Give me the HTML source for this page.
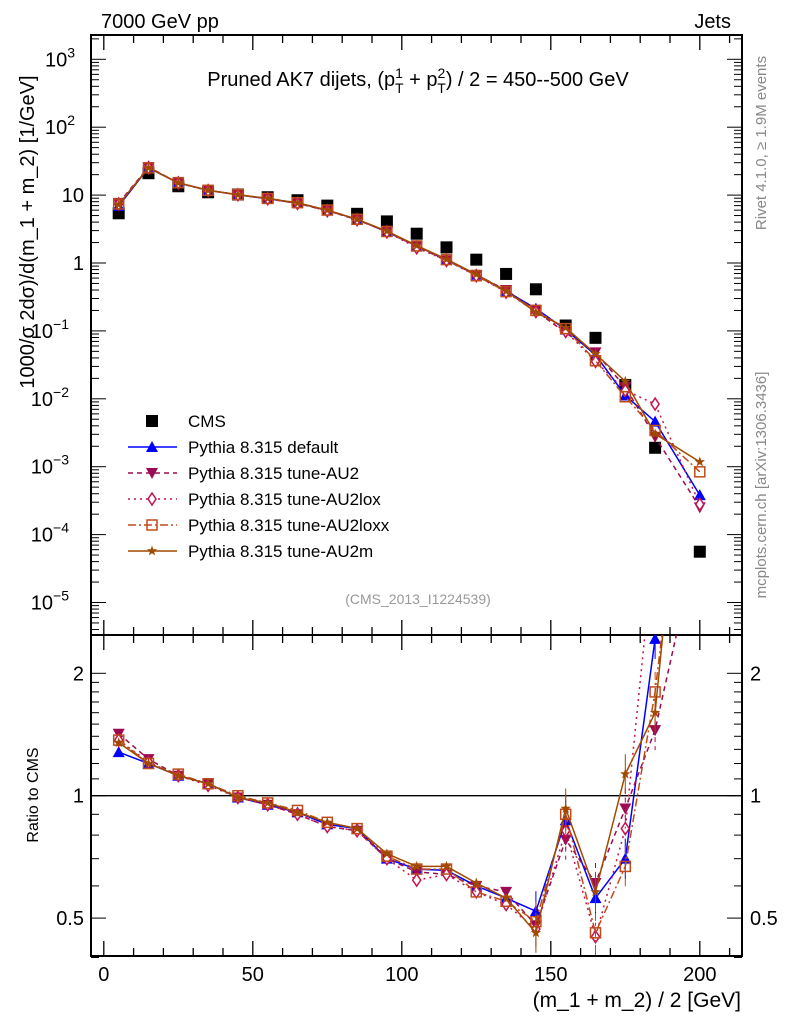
<!DOCTYPE html>
<html><head><meta charset="utf-8"><style>
html,body{margin:0;padding:0;background:#fff}
svg{display:block;font-family:"Liberation Sans",sans-serif}
</style></head><body>
<svg id="chart" width="786" height="1024" xmlns="http://www.w3.org/2000/svg">
<g id="main"></g>
<g id="ratio"></g>
<g id="labels">
<text x="101" y="28" font-size="20">7000 GeV pp</text>
<text x="731" y="28" font-size="20" text-anchor="end">Jets</text>
<text x="418" y="86" font-size="20" text-anchor="middle">Pruned AK7 dijets, (p<tspan dy="-8" font-size="14">1</tspan><tspan dx="-8" dy="15" font-size="14">T</tspan><tspan dy="-7"> + p</tspan><tspan dy="-8" font-size="14">2</tspan><tspan dx="-8" dy="15" font-size="14">T</tspan><tspan dy="-7">) / 2 = 450--500 GeV</tspan></text>
<text x="0" y="0" font-size="20" text-anchor="middle" transform="translate(34,232) rotate(-90)">1000/σ  2dσ)/d(m_1 + m_2) [1/GeV]</text>
<text x="0" y="0" font-size="16" text-anchor="middle" transform="translate(38,795) rotate(-90)">Ratio to CMS</text>
<text x="741" y="1007" font-size="21" text-anchor="end">(m_1 + m_2) / 2 [GeV]</text>
<text x="0" y="0" font-size="15" fill="#888" text-anchor="middle" transform="translate(766,143) rotate(-90)">Rivet 4.1.0, ≥ 1.9M events</text>
<text x="0" y="0" font-size="15" fill="#888" text-anchor="middle" transform="translate(766,485) rotate(-90)">mcplots.cern.ch [arXiv:1306.3436]</text>
<text x="418" y="604" font-size="14" fill="#999" text-anchor="middle">(CMS_2013_I1224539)</text>
</g>
<g id="legend"></g>
</svg>
<script>
const xCenters=[5,15,25,35,45,55,65,75,85,95,105,115,125,135,145,155,165,175,185,200];
const cmsValues=[5.4,21,13.5,11,10.2,9.3,8.4,7.0,5.3,4.1,2.7,1.7,1.12,0.69,0.41,0.12,0.079,0.016,0.0019,0.000056];
const ratioDefault=[1.28,1.2,1.12,1.07,0.99,0.95,0.91,0.85,0.83,0.7,0.66,0.655,0.6,0.56,0.52,0.87,0.56,0.7,2.43,6.8];
const ratioAU2=[1.42,1.23,1.12,1.07,0.99,0.95,0.9,0.84,0.82,0.7,0.65,0.64,0.6,0.58,0.48,0.78,0.61,0.93,1.45,4.5];
const ratioAU2lox=[1.37,1.21,1.12,1.06,0.99,0.95,0.9,0.84,0.82,0.7,0.62,0.64,0.58,0.54,0.47,0.82,0.45,0.83,4.4,5.0];
const ratioAU2loxx=[1.37,1.2,1.13,1.07,1.0,0.96,0.92,0.86,0.83,0.71,0.66,0.66,0.58,0.55,0.49,0.9,0.46,0.67,1.8,15];
const ratioAU2m=[1.35,1.2,1.12,1.07,0.99,0.96,0.91,0.86,0.83,0.72,0.67,0.67,0.61,0.56,0.46,0.93,0.58,1.13,1.6,21];
const mainTickExps=[3,2,1,0,-1,-2,-3,-4,-5];
const xTickLabels=[0,50,100,150,200];
const ratioTickLabels=[0.5,1,2];

const NS="http://www.w3.org/2000/svg";
const L=91,R=742,MT=35,MB=635,RT=635,RB=956;
const xp=v=>103.8+2.98*v;
const yMain=v=>263-67.9*Math.log10(v);
const yRat=v=>795.7-122.4*Math.log2(v);
function mk(par,tag,attrs){const e=document.createElementNS(NS,tag);for(const k in attrs)e.setAttribute(k,attrs[k]);par.appendChild(e);return e;}
const main=document.getElementById('main'),ratio=document.getElementById('ratio'),leg=document.getElementById('legend');
const defs=mk(document.getElementById('chart'),'defs',{});
const c1=mk(defs,'clipPath',{id:'cm'});mk(c1,'rect',{x:L,y:MT,width:R-L,height:MB-MT});
const c2=mk(defs,'clipPath',{id:'cr'});mk(c2,'rect',{x:L,y:RT,width:R-L,height:RB-RT});

function frame(g,top,bot,name){
  const r=mk(g,'rect',{x:L,y:top,width:R-L,height:bot-top,fill:'none',stroke:'#000','stroke-width':2});
  
  
  for(let v=0;v<=210;v+=10){const big=v%50===0;const len=big?15:8;
    mk(g,'line',{x1:xp(v),x2:xp(v),y1:bot,y2:bot-len,stroke:'#000','stroke-width':1.3});
    mk(g,'line',{x1:xp(v),x2:xp(v),y1:top,y2:top+len,stroke:'#000','stroke-width':1.3});}
}
frame(main,MT,MB,'main-frame');frame(ratio,RT,RB,'ratio-frame');
for(let e=-6;e<=3;e++){for(let m=1;m<10;m++){const v=m*Math.pow(10,e);const y=yMain(v);if(y<MT||y>MB)continue;const len=m===1?15:8;
  mk(main,'line',{x1:L,x2:L+len,y1:y,y2:y,stroke:'#000','stroke-width':1});
  mk(main,'line',{x1:R,x2:R-len,y1:y,y2:y,stroke:'#000','stroke-width':1});}}
mainTickExps.forEach(e=>{const t=mk(main,'text',{x:84,y:yMain(Math.pow(10,e))+7,'font-size':20,'text-anchor':'end'});
  
  
  if(e===0)t.textContent='1';else if(e===1)t.textContent='10';
  else{t.innerHTML='10<tspan dy="-9" font-size="14">'+(e<0?'−'+(-e):e)+'</tspan>';t.setAttribute('x',84-(e<0?15:9));}});
[0.4,0.5,0.6,0.7,0.8,0.9,1,1.1,1.2,1.3,1.4,1.5,1.6,1.7,1.8,1.9,2].forEach(v=>{const y=yRat(v);const big=(v===0.5||v===1||v===2);const len=big?15:8;
  mk(ratio,'line',{x1:L,x2:L+len,y1:y,y2:y,stroke:'#000','stroke-width':1});
  mk(ratio,'line',{x1:R,x2:R-len,y1:y,y2:y,stroke:'#000','stroke-width':1});});
ratioTickLabels.forEach(v=>{
  const t=mk(ratio,'text',{x:84,y:yRat(v)+7,'font-size':20,'text-anchor':'end'});t.textContent=String(v);
  
  
  const t2=mk(ratio,'text',{x:750,y:yRat(v)+7,'font-size':20});t2.textContent=String(v);
  
  });
xTickLabels.forEach(v=>{const t=mk(ratio,'text',{x:xp(v),y:981,'font-size':20,'text-anchor':'middle'});t.textContent=String(v);
  
  });
mk(ratio,'line',{x1:L,x2:R,y1:yRat(1),y2:yRat(1),stroke:'#000','stroke-width':1.3});

const series=[
 {name:'Pythia 8.315 default',r:ratioDefault,c:'#0000ff',dash:'',mk:'tri'},
 {name:'Pythia 8.315 tune-AU2',r:ratioAU2,c:'#9b0a52',dash:'5,4',mk:'tridown'},
 {name:'Pythia 8.315 tune-AU2lox',r:ratioAU2lox,c:'#c4124e',dash:'2,4',mk:'diamond'},
 {name:'Pythia 8.315 tune-AU2loxx',r:ratioAU2loxx,c:'#c04a1a',dash:'8,3,2,3',mk:'square'},
 {name:'Pythia 8.315 tune-AU2m',r:ratioAU2m,c:'#a04a00',dash:'',mk:'star'}];
function marker(g,type,x,y,c){
  if(type==='tri')return mk(g,'polygon',{points:`${x},${y-6} ${x-6},${y+5} ${x+6},${y+5}`,fill:c});
  if(type==='tridown')return mk(g,'polygon',{points:`${x},${y+6} ${x-6},${y-5} ${x+6},${y-5}`,fill:c});
  if(type==='diamond')return mk(g,'polygon',{points:`${x},${y-6} ${x+4},${y} ${x},${y+6} ${x-4},${y}`,fill:'#fff',stroke:c,'stroke-width':1.5});
  if(type==='square')return mk(g,'rect',{x:x-5,y:y-5,width:10,height:10,fill:'none',stroke:c,'stroke-width':1.5});
  if(type==='star'){let p=[];for(let i=0;i<10;i++){const a=Math.PI/5*i-Math.PI/2;const rr=i%2?2.2:5.5;p.push((x+rr*Math.cos(a)).toFixed(1)+','+(y+rr*Math.sin(a)).toFixed(1));}return mk(g,'polygon',{points:p.join(' '),fill:c});}
  if(type==='cms')return mk(g,'rect',{x:x-6,y:y-6,width:12,height:12,fill:'#000'});
}
const gc=mk(main,'g',{'clip-path':'url(#cm)'});


xCenters.forEach((x,i)=>{const m=marker(gc,'cms',xp(x),yMain(cmsValues[i]),'#000');
  
  });
series.forEach((s,si)=>{
  const gm=mk(main,'g',{'clip-path':'url(#cm)'});
  
  
  const gr=mk(ratio,'g',{'clip-path':'url(#cr)'});
  
  
  const pm=xCenters.map((x,i)=>xp(x)+','+yMain(cmsValues[i]*s.r[i])).join(' ');
  const pr=xCenters.map((x,i)=>xp(x)+','+yRat(s.r[i])).join(' ');
  mk(gm,'polyline',{points:pm,fill:'none',stroke:s.c,'stroke-width':1.5,'stroke-dasharray':s.dash});
  mk(gr,'polyline',{points:pr,fill:'none',stroke:s.c,'stroke-width':1.5,'stroke-dasharray':s.dash});
  xCenters.forEach((x,i)=>{
    const a=marker(gm,s.mk,xp(x),yMain(cmsValues[i]*s.r[i]),s.c);
    
    
    const b=marker(gr,s.mk,xp(x),yRat(s.r[i]),s.c);
    
    
    if(i>=14){const y=yRat(s.r[i]);mk(gr,'line',{x1:xp(x),x2:xp(x),y1:y-20,y2:y+20,stroke:s.c,'stroke-width':1,'stroke-dasharray':s.dash});}
  });
});
const legRows=[{name:'CMS',mk:'cms',c:'#000',dash:null}].concat(series);
legRows.forEach((s,i)=>{const y=421+26*i;
  const g=mk(leg,'g',{});
  
  
  if(s.dash!==null)mk(g,'line',{x1:128,x2:177,y1:y,y2:y,stroke:s.c,'stroke-width':1.5,'stroke-dasharray':s.dash});
  marker(g,s.mk,152,y,s.c);
  const t=mk(g,'text',{x:188,y:y+6,'font-size':17});t.textContent=s.name;});
</script>
</body></html>
